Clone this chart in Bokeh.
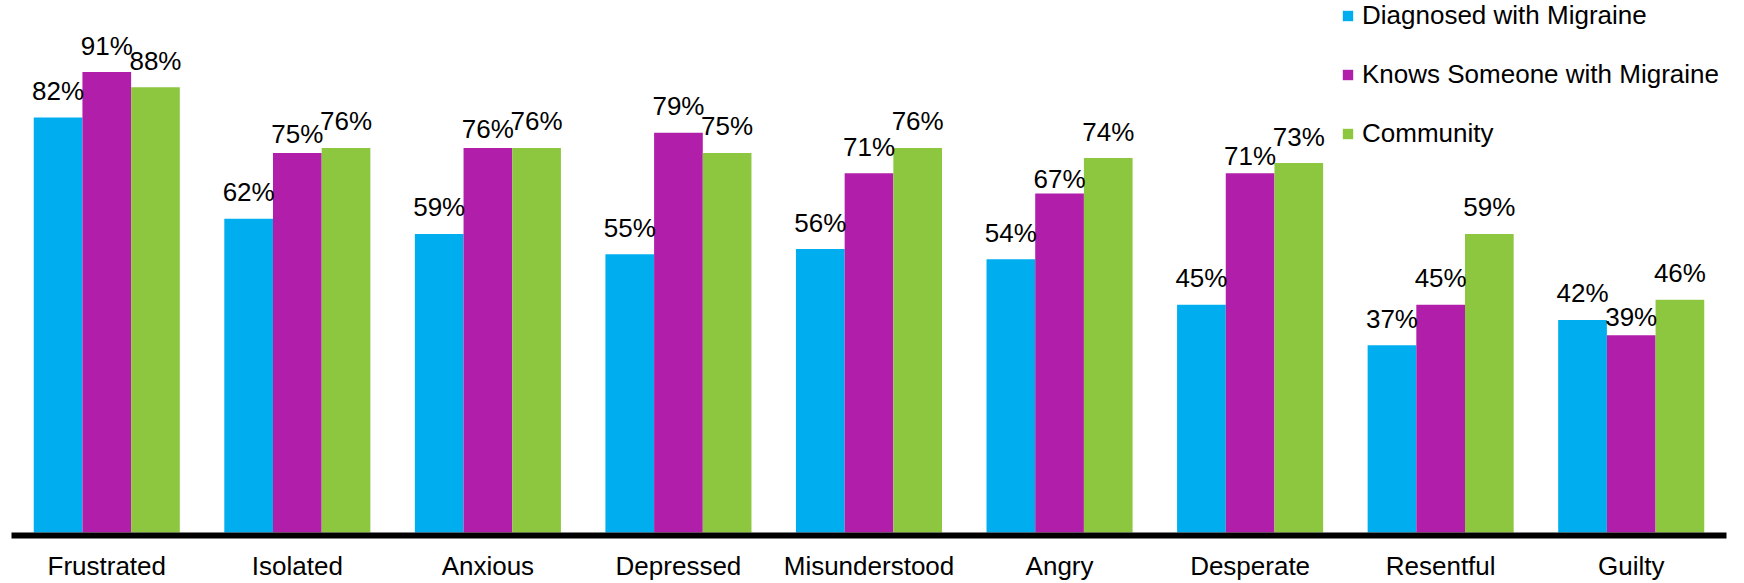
from bokeh.plotting import figure
from bokeh.models import ColumnDataSource, FactorRange, Range1d, LabelSet, Legend, LegendItem
from bokeh.transform import dodge
from bokeh.core.properties import value
from bokeh.embed import file_html
from bokeh.resources import INLINE

# ---- data ----
categories = ["Frustrated", "Isolated", "Anxious", "Depressed", "Misunderstood",
              "Angry", "Desperate", "Resentful", "Guilty"]
diagnosed = [82, 62, 59, 55, 56, 54, 45, 37, 42]
knows_someone = [91, 75, 76, 79, 71, 67, 71, 45, 39]
community = [88, 76, 76, 75, 76, 74, 73, 59, 46]
series_names = ["Diagnosed with Migraine", "Knows Someone with Migraine", "Community"]

# ---- style ----
colors = ["#00AEEF", "#B11EA9", "#8DC63F"]
FONT = "Liberation Sans"
FS = "26px"
BAR_W = 0.2555
offsets = [-BAR_W, 0.0, BAR_W]
DEFAULT_GAP = 17.5
# label gaps (px) that were moved in the original
gap_nudge = {("Isolated", 1): 10, ("Anxious", 1): 10, ("Angry", 1): 5,
             ("Desperate", 1): 8, ("Guilty", 1): 9}

p = figure(x_range=FactorRange(factors=categories, range_padding=0, factor_padding=0),
           y_range=Range1d(-0.59, 105.13),
           width=1744, height=583, output_backend="svg", toolbar_location=None,
           y_axis_location=None, min_border_left=11, min_border_right=18,
           min_border_top=0, min_border_bottom=47, outline_line_color=None)
p.xgrid.visible = False
p.ygrid.visible = False

items = []
for k, vals in enumerate([diagnosed, knows_someone, community]):
    src = ColumnDataSource(dict(
        cat=categories,
        val=vals,
        txt=[f"{v}%" for v in vals],
        gap=[gap_nudge.get((c, k), DEFAULT_GAP) for c in categories],
    ))
    r = p.vbar(x=dodge("cat", offsets[k], range=p.x_range), top="val", bottom=0,
               width=BAR_W, source=src, fill_color=colors[k], line_color=None)
    items.append(LegendItem(label=series_names[k], renderers=[r]))
    labels = LabelSet(x=dodge("cat", offsets[k], range=p.x_range), y="val", text="txt",
                      y_offset="gap", source=src, text_align="center",
                      text_baseline="alphabetic", text_font=value(FONT),
                      text_font_size=value(FS), text_color="black")
    p.add_layout(labels)

xa = p.xaxis[0]
xa.axis_line_width = 6
xa.axis_line_color = "black"
xa.major_tick_line_color = None
xa.minor_tick_line_color = None
xa.major_tick_out = 0
xa.major_tick_in = 0
xa.major_label_standoff = 15
xa.major_label_text_line_height = 1.0
xa.major_label_text_font = FONT
xa.major_label_text_font_size = FS
xa.major_label_text_color = "black"

legend = Legend(items=items, location=(1330, 386), padding=0, margin=0,
                border_line_color=None, background_fill_alpha=0,
                label_text_font=FONT, label_text_font_size=FS, label_text_color="black",
                glyph_width=13, glyph_height=13, label_standoff=8,
                spacing=28, label_height=30)
p.add_layout(legend)

open("out.html", "w").write(file_html(p, INLINE))
